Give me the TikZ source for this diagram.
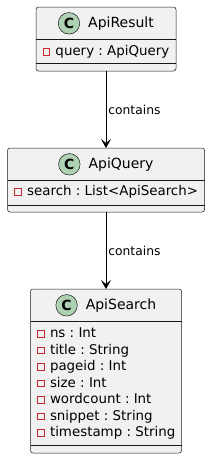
\documentclass[tikz,border=0pt]{standalone}
\usepackage{fontspec}
\setmainfont{DejaVu Sans}
\usetikzlibrary{arrows.meta, positioning}
\definecolor{boxfill}{HTML}{F1F1F1}
\definecolor{boxline}{HTML}{181818}
\definecolor{spotfill}{HTML}{ADD1B2}
\definecolor{privred}{HTML}{C82930}

\begin{document}
\frenchspacing
\begin{tikzpicture}[
    x=1pt, y=1pt,
    node distance=77pt,
    classbox/.style = {rectangle, draw=boxline, fill=boxfill, line width=0.5pt, rounded corners=2.5pt, outer sep=0pt, inner sep=0pt, minimum height=64pt},
    classname/.style = {inner sep=0pt, font=\fontsize{14}{16}\selectfont},
    spot/.style = {circle, draw=boxline, fill=spotfill, line width=0.5pt, minimum size=21.5pt, inner sep=0pt, font=\fontsize{14}{16}\selectfont\bfseries},
    privicon/.style = {rectangle, draw=privred, line width=0.8pt, minimum width=6.5pt, minimum height=6.5pt, inner sep=0pt},
    field/.style = {anchor=west, inner sep=0pt, text height=10pt, text depth=3pt, font=\fontsize{13.4}{15}\selectfont, label={[privicon, label distance=5.5pt]left:{}}},
    sepline/.style = {draw=boxline, line width=0.5pt},
    assoc/.style = {draw=black, line width=0.8pt, -{Stealth[length=9pt, width=10pt, inset=4pt]}},
    linklabel/.style = {right, inner sep=2pt, font=\fontsize{12.3}{14}\selectfont}]

    \useasboundingbox (0,0) rectangle (210,-459);

    % ApiResult
    \node[classbox, minimum width=140pt] (res) at (106,-39) {};
    \node[classname] (resname) at ([xshift=15pt, yshift=-16.3pt]res.north) {ApiResult};
    \node[spot, left=8pt of resname] (resspot) {C};
    \draw[sepline] ([yshift=-32.5pt]res.north west) -- ([yshift=-32.5pt]res.north east);
    \node[field] (resquery) at ([xshift=19.3pt, yshift=-45pt]res.north west) {query : ApiQuery};
    \draw[sepline] ([yshift=7.5pt]res.south west) -- ([yshift=7.5pt]res.south east);

    % ApiQuery
    \node[classbox, minimum width=197pt, below=of res] (qry) {};
    \node[classname] (qryname) at ([xshift=15pt, yshift=-16.3pt]qry.north) {ApiQuery};
    \node[spot, left=8pt of qryname] (qryspot) {C};
    \draw[sepline] ([yshift=-32.5pt]qry.north west) -- ([yshift=-32.5pt]qry.north east);
    \node[field] (qrysearch) at ([xshift=19.5pt, yshift=-44pt]qry.north west) {search : List<ApiSearch>};
    \draw[sepline] ([yshift=7pt]qry.south west) -- ([yshift=7pt]qry.south east);

    % ApiSearch
    \node[classbox, minimum width=151pt, minimum height=164pt, below=of qry] (srch) {};
    \node[classname] (srchname) at ([xshift=15pt, yshift=-16.3pt]srch.north) {ApiSearch};
    \node[spot, left=8pt of srchname] (srchspot) {C};
    \draw[sepline] ([yshift=-32.5pt]srch.north west) -- ([yshift=-32.5pt]srch.north east);
    \node[field] (srchns) at ([xshift=19.3pt, yshift=-45pt]srch.north west) {ns : Int};
    \node[field] (srchtitle) at ([xshift=19.3pt, yshift=-61.5pt]srch.north west) {title : String};
    \node[field] (srchpageid) at ([xshift=19.3pt, yshift=-78pt]srch.north west) {pageid : Int};
    \node[field] (srchsize) at ([xshift=19.3pt, yshift=-94.5pt]srch.north west) {size : Int};
    \node[field] (srchwords) at ([xshift=19.3pt, yshift=-111pt]srch.north west) {wordcount : Int};
    \node[field] (srchsnippet) at ([xshift=19.3pt, yshift=-127.5pt]srch.north west) {snippet : String};
    \node[field] (srchstamp) at ([xshift=19.3pt, yshift=-144pt]srch.north west) {timestamp : String};
    \draw[sepline] ([yshift=8pt]srch.south west) -- ([yshift=8pt]srch.south east);

    \draw[assoc] (res) -- node[linklabel] {contains} (qry);
    \draw[assoc] (qry) -- node[linklabel] {contains} (srch);
\end{tikzpicture}
\end{document}
